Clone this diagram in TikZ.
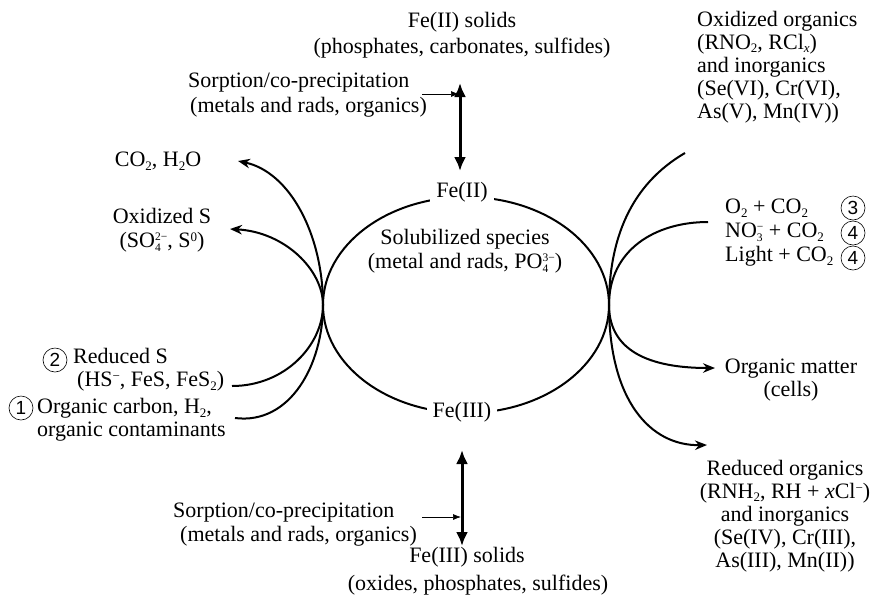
\documentclass[tikz,border=0pt]{standalone}
\usepackage{fontspec}
\setmainfont{Liberation Serif}
\newfontfamily\numfont{Liberation Sans}
\usetikzlibrary{arrows.meta}
\newcommand\fs{\fontsize{22}{23}\selectfont}
\newcommand\Sup[1]{\raisebox{6pt}{\fontsize{13}{13}\selectfont #1}}
\newcommand\Sub[1]{\raisebox{-3.5pt}{\fontsize{13}{13}\selectfont #1}}
\newcommand\sbsp[2]{\makebox[0pt][l]{\raisebox{-4pt}{\fontsize{11.5}{11.5}\selectfont #1}}\raisebox{7pt}{\fontsize{11.5}{11.5}\selectfont #2}}
\begin{document}
\begin{tikzpicture}[x=1pt,y=-1pt,
  txt/.style={font=\fs, inner sep=0pt, align=center},
  txtl/.style={font=\fs, inner sep=0pt, align=left},
  num/.style={circle, draw, line width=0.6pt, inner sep=0pt, minimum size=24pt, font=\numfont\fontsize{19}{19}\selectfont},
  flow/.style={line width=2pt, -{Stealth[length=12pt,width=9.5pt]}},
  dbl/.style={line width=3pt, {Latex[length=14pt,width=12pt]}-{Latex[length=14pt,width=12pt]}},
  thinarr/.style={line width=0.7pt, -{Latex[length=8pt,width=6pt]}}
]
\useasboundingbox (0,0) rectangle (870,598);
\fill[white] (0,0) rectangle (870,598);

% central ellipse
\coordinate (cen) at (466,305);
\coordinate (pL) at (323,305);
\coordinate (pR) at (609,305);
\draw[line width=2pt] (cen) ellipse [x radius=143, y radius=108];
\node[txt, fill=white, inner xsep=6pt, inner ysep=2pt] (fe2) at (462,192) {Fe(II)};
\node[txt, fill=white, inner xsep=6pt, inner ysep=2pt] (fe3) at (462,412) {Fe(III)};
\node[txt] (sol) at (465,251) {Solubilized species\\[1pt](metal and rads, PO\sbsp{4}{3−})};

% top
\node[txt] (fe2s) at (462,35) {Fe(II) solids\\[3pt](phosphates, carbonates, sulfides)};
\node[txtl, anchor=west] (sorp1) at (188,95) {Sorption/co-precipitation\\[2pt]\hspace*{2pt}(metals and rads, organics)};
\coordinate (t1a) at (460,83);
\coordinate (t1b) at (460,171);
\draw[dbl] (t1a) -- (t1b);
\coordinate (s1a) at (422,94);
\coordinate (s1b) at (459,94);
\draw[thinarr] (s1a) -- (s1b);

% bottom
\node[txt] (fe3s) at (478,571) {Fe(III) solids\hspace*{22pt}\\[5pt](oxides, phosphates, sulfides)};
\node[txtl, anchor=west] (sorp2) at (173,525) {Sorption/co-precipitation\\[1pt]\hspace*{7pt}(metals and rads, organics)};
\coordinate (t2a) at (462,450);
\coordinate (t2b) at (462,546);
\draw[dbl] (t2a) -- (t2b);
\coordinate (s2a) at (422,517);
\coordinate (s2b) at (461,517);
\draw[thinarr] (s2a) -- (s2b);

% left labels
\node[txt] (co2) at (158,161) {CO\Sub{2}, H\Sub{2}O};
\node[txt] (oxs) at (162,230) {Oxidized S\\[1pt](SO\sbsp{4}{2−}, S\Sup{0})};
\node[num] (n2) at (55,360) {2};
\node[txtl, anchor=west] (reds) at (77,370) {\hspace*{-4pt}Reduced S\\(HS\Sup{−}, FeS, FeS\Sub{2})};
\node[num] (n1) at (21,408) {1};
\node[txtl, anchor=west] (orgc) at (37,420) {Organic carbon, H\Sub{2},\\organic contaminants};

% right labels
\node[txtl, anchor=west] (oxorg) at (697,67) {Oxidized organics\\(RNO\Sub{2}, RCl\Sub{\textit{x}})\\and inorganics\\(Se(VI), Cr(VI),\\As(V), Mn(IV))};
\node[txtl, anchor=west] (gas) at (725,233) {O\Sub{2} + CO\Sub{2}\\[1pt]NO\sbsp{3}{−} + CO\Sub{2}\\[1pt]Light + CO\Sub{2}};
\node[num] (n3) at (853,208) {3};
\node[num] (n4a) at (853,233) {4};
\node[num] (n4b) at (853,258) {4};
\node[txt] (orgm) at (791,380) {Organic matter\\(cells)};
\node[txt] (redorg) at (785,516) {Reduced organics\\(RNH\Sub{2}, RH + \textit{x}Cl\Sup{−})\\and inorganics\\(Se(IV), Cr(III),\\As(III), Mn(II))};

% flow curves (left)
\coordinate (aS) at (235,418);
\coordinate (aE) at (238,161);
\coordinate (bS) at (232,386);
\coordinate (bE) at (230,229);
\draw[flow] (aS) .. controls (290,425) and (323,365) .. (pL) .. controls (323,235) and (290,172) .. (aE);
\draw[flow] (bS) .. controls (285,386) and (323,345) .. (pL) .. controls (323,270) and (285,232) .. (bE);

% flow curves (right)
\coordinate (cS) at (685,153);
\coordinate (cE) at (707,445);
\coordinate (dS) at (708,222);
\coordinate (dE) at (715,368);
\draw[flow] (cS) .. controls (630,185) and (609,240) .. (pR) .. controls (609,400) and (650,446) .. (cE);
\draw[flow] (dS) .. controls (655,222) and (609,250) .. (pR) .. controls (609,345) and (640,368) .. (dE);
\end{tikzpicture}
\end{document}
